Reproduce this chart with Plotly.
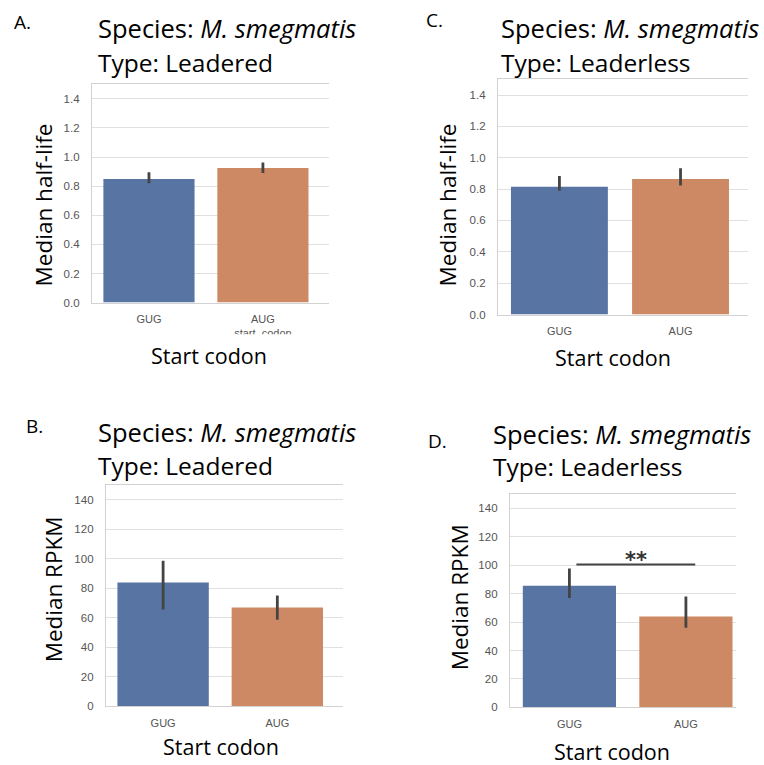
import plotly.graph_objects as go

W, H = 764, 765

# ---------------- data ----------------
categories = ["GUG", "AUG"]
bar_colors = ["#5874a2", "#cc8963"]

halflife_leadered = [0.85, 0.925]
halflife_leadered_lo = [0.82, 0.89]
halflife_leadered_hi = [0.895, 0.963]

halflife_leaderless = [0.815, 0.865]
halflife_leaderless_lo = [0.79, 0.823]
halflife_leaderless_hi = [0.884, 0.933]

rpkm_leadered = [84, 67]
rpkm_leadered_lo = [65.7, 58.8]
rpkm_leadered_hi = [98.7, 75.2]

rpkm_leaderless = [85.5, 64]
rpkm_leaderless_lo = [76.9, 56]
rpkm_leaderless_hi = [97.6, 78]

halflife_ticks = [0.0, 0.2, 0.4, 0.6, 0.8, 1.0, 1.2, 1.4]
rpkm_ticks = [0, 20, 40, 60, 80, 100, 120, 140]

sig_label = "**"
sig_y = 100.5
sig_x = [0.06, 1.08]

# ---------------- helpers ----------------
def px(x):
    return x / W

def py(y):
    return 1 - y / H

TITLE_FONT = "Open Sans"
TICK_FONT = "Liberation Sans"
TICK_COLOR = "#555555"
GRID = "#e0e0e0"
SPINE = "#d2d2d2"
ERR = "#444444"

panels = [
    dict(n=1, vals=halflife_leadered, lo=halflife_leadered_lo, hi=halflife_leadered_hi,
         dom_x=(92, 329), dom_y=(85, 305), xr=[-0.5, 1.58], yr=[0, 1.5], ticks=halflife_ticks, fmt=".1f",
         letter="A.", letter_xy=(12, 22), species_xy=(96, 28), type_xy=(96, 63), type_txt="Type: Leadered",
         ylab="Median half-life", ylab_xy=(43, 207), xlab_xy=(209, 358)),
    dict(n=2, vals=halflife_leaderless, lo=halflife_leaderless_lo, hi=halflife_leaderless_hi,
         dom_x=(498, 748), dom_y=(80, 317), xr=[-0.507, 1.557], yr=[0, 1.5], ticks=halflife_ticks, fmt=".1f",
         letter="C.", letter_xy=(424, 20), species_xy=(499, 28), type_xy=(499, 63), type_txt="Type: Leaderless",
         ylab="Median half-life", ylab_xy=(447, 207), xlab_xy=(613, 360)),
    dict(n=3, vals=rpkm_leadered, lo=rpkm_leadered_lo, hi=rpkm_leadered_hi,
         dom_x=(106, 343), dom_y=(489, 712), xr=[-0.5, 1.575], yr=[0, 150], ticks=rpkm_ticks, fmt="d",
         letter="B.", letter_xy=(24, 429), species_xy=(96, 435), type_xy=(96, 469), type_txt="Type: Leadered",
         ylab="Median RPKM", ylab_xy=(53, 594), xlab_xy=(221, 752)),
    dict(n=4, vals=rpkm_leaderless, lo=rpkm_leaderless_lo, hi=rpkm_leaderless_hi,
         dom_x=(510, 736), dom_y=(498, 713), xr=[-0.51, 1.43], yr=[0, 150], ticks=rpkm_ticks, fmt="d",
         letter="D.", letter_xy=(426, 444), species_xy=(491, 437), type_xy=(491, 470), type_txt="Type: Leaderless",
         ylab="Median RPKM", ylab_xy=(459, 602), xlab_xy=(612, 757)),
]

fig = go.Figure()
annotations = []
layout_axes = {}

for p in panels:
    n = p["n"]
    xa = "x" if n == 1 else f"x{n}"
    ya = "y" if n == 1 else f"y{n}"
    vals = p["vals"]
    plus = [h - v for h, v in zip(p["hi"], vals)]
    minus = [v - l for v, l in zip(vals, p["lo"])]
    fig.add_trace(go.Bar(
        x=categories, y=vals, width=0.8,
        marker=dict(color=bar_colors, line=dict(width=0)),
        error_y=dict(type="data", symmetric=False, array=plus, arrayminus=minus,
                     color=ERR, thickness=2.8, width=0),
        xaxis=xa, yaxis=ya, showlegend=False, hoverinfo="skip",
    ))
    xkey = "xaxis" if n == 1 else f"xaxis{n}"
    ykey = "yaxis" if n == 1 else f"yaxis{n}"
    layout_axes[xkey] = dict(
        domain=[px(p["dom_x"][0]), px(p["dom_x"][1])], anchor=ya, range=p["xr"],
        type="category", showgrid=False, showline=True, linecolor=SPINE, linewidth=1.3,
        mirror=True, ticks="", zeroline=False, ticklabelstandoff=6,
        tickfont=dict(family=TICK_FONT, size=11, color=TICK_COLOR), fixedrange=True,
    )
    layout_axes[ykey] = dict(
        domain=[py(p["dom_y"][1]), py(p["dom_y"][0])], anchor=xa, range=p["yr"],
        tickvals=p["ticks"], tickformat=p["fmt"], showgrid=True, gridcolor=GRID, gridwidth=1.3,
        showline=True, linecolor=SPINE, linewidth=1.3, zeroline=False, ticks="",
        ticklabelstandoff=9, tickfont=dict(family=TICK_FONT, size=11.5, color=TICK_COLOR),
        fixedrange=True,
    )
    annotations.append(dict(text=p["letter"], x=px(p["letter_xy"][0]), y=py(p["letter_xy"][1]),
                            xref="paper", yref="paper", xanchor="left", yanchor="middle", showarrow=False,
                            font=dict(family=TITLE_FONT, size=19, color="black")))
    annotations.append(dict(text="Species: <i>M. smegmatis</i>", x=px(p["species_xy"][0]), y=py(p["species_xy"][1]),
                            xref="paper", yref="paper", xanchor="left", yanchor="middle", showarrow=False,
                            font=dict(family=TITLE_FONT, size=25.5, color="black")))
    annotations.append(dict(text=p["type_txt"], x=px(p["type_xy"][0]), y=py(p["type_xy"][1]),
                            xref="paper", yref="paper", xanchor="left", yanchor="middle", showarrow=False,
                            font=dict(family=TITLE_FONT, size=24.5, color="black")))
    annotations.append(dict(text=p["ylab"], x=px(p["ylab_xy"][0]), y=py(p["ylab_xy"][1]), textangle=-90,
                            xref="paper", yref="paper", xanchor="center", yanchor="middle", showarrow=False,
                            font=dict(family=TITLE_FONT, size=22.5, color="black")))
    annotations.append(dict(text="Start codon", x=px(p["xlab_xy"][0]), y=py(p["xlab_xy"][1]),
                            xref="paper", yref="paper", xanchor="center", yanchor="middle", showarrow=False,
                            font=dict(family=TITLE_FONT, size=21.5, color="black")))

# significance bar in panel D
fig.add_shape(type="line", xref="x4", yref="y4", x0=sig_x[0], x1=sig_x[1], y0=sig_y, y1=sig_y,
              line=dict(color=ERR, width=2.2))
annotations.append(dict(text="<b>" + sig_label + "</b>", xref="x4", yref="y4", x=(sig_x[0] + sig_x[1]) / 2,
                        y=sig_y, xanchor="center", yanchor="middle", showarrow=False, yshift=4,
                        font=dict(family="DejaVu Sans", size=21, color="#333333")))

# clipped leftover seaborn x-label under panel A (only top part visible)
fig.add_trace(go.Scatter(
    x=[1], y=[-1.0], mode="text", text=["start_codon"], textposition="middle center",
    textfont=dict(family=TICK_FONT, size=11, color=TICK_COLOR), cliponaxis=True,
    xaxis="x5", yaxis="y5", showlegend=False, hoverinfo="skip",
))
layout_axes["xaxis5"] = dict(domain=[px(92), px(329)], anchor="y5", range=[-0.5, 1.58], visible=False,
                             fixedrange=True)
layout_axes["yaxis5"] = dict(domain=[py(337), py(326)], anchor="x5", range=[-1, 1], visible=False,
                             fixedrange=True)

fig.update_layout(
    width=W, height=H, margin=dict(l=0, r=0, t=0, b=0),
    paper_bgcolor="white", plot_bgcolor="white",
    annotations=annotations, bargap=0.2,
    **layout_axes,
)

fig.write_html("out.html")
